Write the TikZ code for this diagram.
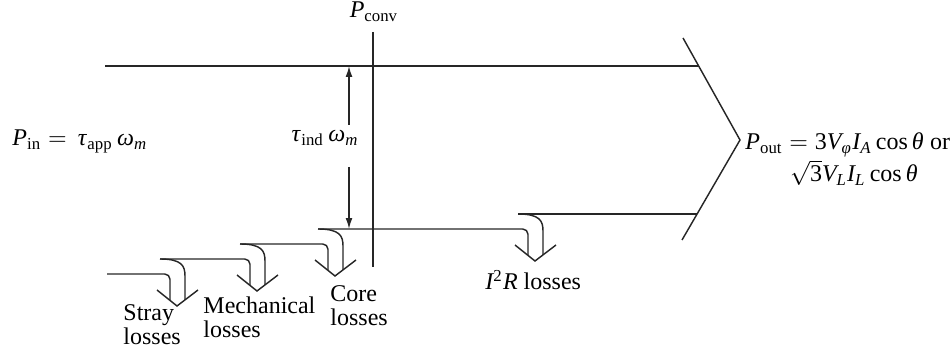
\documentclass[tikz,border=0pt]{standalone}
\usepackage{amsmath}
\usepackage{mathspec}
\setmainfont{Liberation Serif}
\setmathsfont(Digits,Latin,Greek){Liberation Serif}
\setmathrm{Liberation Serif}
\usetikzlibrary{arrows.meta,calc}
\tikzset{
  flow/.style={draw=black!85,line width=0.6pt},
  lab/.style={inner sep=0pt,font=\fontsize{10}{10.4}\selectfont},
  torque/.style={flow,-{Latex[length=1.6mm,width=1mm]}},
}

\begin{document}
\begin{tikzpicture}[x=0.1465mm,y=-0.1465mm]
\useasboundingbox (0,0) rectangle (950,354);
% power flow lines
\coordinate (inT) at (105,66);
\coordinate (outT) at (698.5,66);
\coordinate (chT) at (683,38);
\coordinate (chM) at (740,140);
\coordinate (chB) at (682,240);
\coordinate (outB) at (697,214);
\coordinate (convT) at (373,32);
\coordinate (convB) at (373,267);
\coordinate (sl) at (107,274);
\coordinate (st) at (160,259);
\coordinate (me) at (240,244);
\coordinate (co) at (318,229);
\coordinate (cu) at (518,214);
\draw[flow] (inT) -- (outT);
\draw[flow] (chT) -- (chM) -- (chB);
\draw[flow] (convT) -- (convB);
\draw[flow] (cu) -- (outB);
% stray losses
\draw[flow,rounded corners=2.2pt] (sl) -| ($(st)+(10,41)$);
\draw[flow] (st) .. controls +(22,0) and +(0,-10) .. ++(25,17) -- ++(0,24);
\draw[flow] (st) ++(-3,31) -- ++(20,16) -- ++(21,-16);
% mechanical losses
\draw[flow,rounded corners=2.2pt] (st) -| ($(me)+(10,41)$);
\draw[flow] (me) .. controls +(22,0) and +(0,-10) .. ++(25,17) -- ++(0,24);
\draw[flow] (me) ++(-3,31) -- ++(20,16) -- ++(21,-16);
% core losses
\draw[flow,rounded corners=2.2pt] (me) -| ($(co)+(10,41)$);
\draw[flow] (co) .. controls +(22,0) and +(0,-10) .. ++(25,17) -- ++(0,24);
\draw[flow] (co) ++(-3,31) -- ++(20,16) -- ++(21,-16);
% copper losses
\draw[flow,rounded corners=2.2pt] (co) -| ($(cu)+(10,41)$);
\draw[flow] (cu) .. controls +(22,0) and +(0,-10) .. ++(25,17) -- ++(0,24);
\draw[flow] (cu) ++(-3,31) -- ++(20,16) -- ++(21,-16);
% induced torque
\coordinate (tqU) at (349,125);
\coordinate (tqD) at (349,167);
\draw[torque] (tqU) -- (inT -| tqU);
\draw[torque] (tqD) -- (co -| tqD);
% labels
\node[lab,anchor=base west] (pin) at (12,146) {$P_{\mathrm{in}} = \,\tau_{\mathrm{app}}\,\omega_m$};
\node[lab,anchor=base] (tind) at (325,142) {$\tau_{\mathrm{ind}}\,\omega_m$};
\node[lab,anchor=base] (pconv) at (374,18) {$P_{\mathrm{conv}}$};
\node[lab,anchor=base west] (pout) at (745,150) {$P_{\mathrm{out}} = 3V_{\phi}I_A \cos\theta$ or};
\node[lab,anchor=base] (pout2) at (854,182) {$\sqrt{3}V_L I_L \cos\theta$};
\node[lab,anchor=base west] (cul) at (485,290) {$I^2R$ losses};
\node[lab,anchor=base west,align=left] (col) at (330,326) {Core\\losses};
\node[lab,anchor=base west,align=left] (mel) at (203,338) {Mechanical\\losses};
\node[lab,anchor=base west,align=left] (stl) at (123,345) {Stray\\losses};
\end{tikzpicture}
\end{document}
